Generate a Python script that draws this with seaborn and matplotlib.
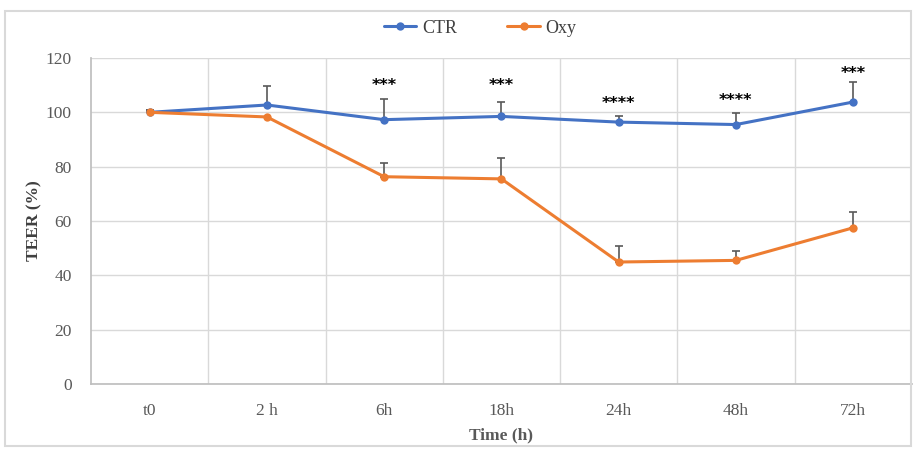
import matplotlib
matplotlib.use("Agg")
import matplotlib.pyplot as plt
import seaborn as sns
import pandas as pd
import numpy as np
from matplotlib.patches import Rectangle

times = ["t0", "2 h", "6h", "18h", "24h", "48h", "72h"]
ctr = [100.0, 102.7, 97.3, 98.5, 96.4, 95.5, 103.8]
ctr_err = [0.8, 7.0, 7.5, 5.4, 2.2, 4.2, 7.3]
oxy = [100.0, 98.3, 76.3, 75.5, 44.9, 45.5, 57.5]
oxy_err = [0.8, 0.0, 5.0, 7.7, 5.9, 3.4, 5.9]
stars = ["", "", "***", "***", "****", "****", "***"]
star_y = [0, 0, 110.0, 110.0, 103.2, 104.3, 114.2]

sns.set_theme(style="white")
plt.rcParams['font.family'] = ['Liberation Serif', 'DejaVu Serif']

fig = plt.figure(figsize=(9.13, 4.51), dpi=100)
ax = fig.add_axes([0.0997, 0.1486, 0.899, 0.7228])

df = pd.DataFrame({
    "Time": times * 2,
    "TEER": ctr + oxy,
    "Group": ["CTR"] * len(times) + ["Oxy"] * len(times),
})
palette = {"CTR": "#4472C4", "Oxy": "#ED7D31"}
sns.lineplot(data=df, x="Time", y="TEER", hue="Group", palette=palette,
             marker="o", markersize=6, markeredgewidth=0, linewidth=2.2,
             sort=False, ax=ax, zorder=3)

xs = np.arange(len(times))
for vals, errs in [(ctr, ctr_err), (oxy, oxy_err)]:
    ax.errorbar(xs, vals, yerr=[np.zeros(len(errs)), errs], fmt="none",
                ecolor="#595959", elinewidth=1.2, capsize=3, capthick=1.2, zorder=2)

for x, s, y in zip(xs, stars, star_y):
    if s:
        ax.text(x, y, s, ha="center", va="center", fontsize=11.5,
                fontweight="bold", color="black", family=["DejaVu Sans"])

ax.set_xlim(-0.5, len(times) - 0.5)
ax.set_ylim(0, 120)
ax.set_yticks(np.arange(0, 121, 20))
ax.set_xticks(xs)
ax.set_xticklabels(times)
ax.yaxis.grid(True, color="#D9D9D9", linewidth=1)
ax.set_xticks(np.arange(0.5, len(times) - 0.5, 1), minor=True)
ax.xaxis.grid(True, which="minor", color="#D9D9D9", linewidth=1)
ax.set_axisbelow(True)
for side in ["top", "right"]:
    ax.spines[side].set_visible(False)
ax.spines["left"].set_color("#BFBFBF")
ax.spines["bottom"].set_color("#BFBFBF")
ax.tick_params(axis="both", which="both", length=0, labelsize=12.5, labelcolor="#595959")
ax.tick_params(axis="x", pad=14)
ax.tick_params(axis="y", pad=14)

ax.set_xlabel("Time (h)", fontsize=12.5, fontweight="bold", color="#595959", labelpad=6)
ax.set_ylabel("TEER (%)", fontsize=12.5, fontweight="bold", color="#404040", labelpad=2)

handles, labels = ax.get_legend_handles_labels()
ax.legend(handles, labels, loc="center", bbox_to_anchor=(0.474, 1.092), ncol=2,
          frameon=False, fontsize=13, handlelength=1.8, columnspacing=2.8,
          handletextpad=0.3, labelcolor="#404040")

fig.patches.append(Rectangle((0.005, 0.012), 0.993, 0.963, transform=fig.transFigure,
                             fill=False, edgecolor="#D9D9D9", linewidth=1.5))

fig.savefig("out.png", dpi=100, facecolor="white")
